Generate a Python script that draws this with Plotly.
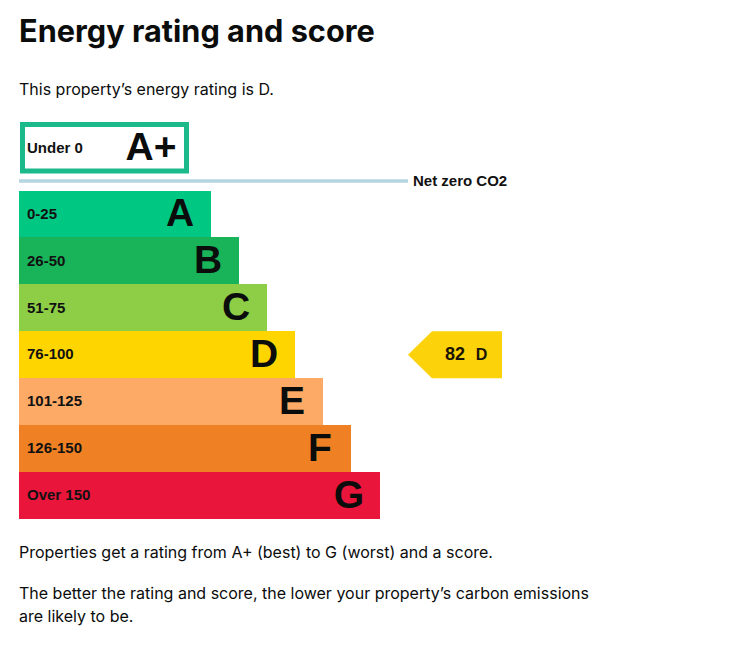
import plotly.graph_objects as go

ranges = ["0-25", "26-50", "51-75", "76-100", "101-125", "126-150", "Over 150"]
letters = ["A", "B", "C", "D", "E", "F", "G"]
bar_lengths = [192, 220, 248, 276, 304, 332, 361]
bar_colors = ["#00c781", "#19b459", "#8dce46", "#ffd500", "#fcaa65", "#ef8023", "#e9153b"]

score = 82
score_letter = "D"
score_row = letters.index(score_letter)

W, H = 747, 657
LEFT = 19
ROW_H = 46.9
ROW0_Y = 214
# text sits a little high in its line box
SMALL_DY = 1 / ROW_H
BIG_DY = 2.5 / ROW_H


def row(py):
    # page pixel height -> row units on the y axis
    return (py - ROW0_Y) / ROW_H


def col(px):
    return px - LEFT


def bold(items):
    return ["<b>%s</b>" % s for s in items]


rows = list(range(len(letters)))
fig = go.Figure()

fig.add_trace(go.Bar(y=rows, x=bar_lengths, orientation="h", width=1,
                     marker=dict(color=bar_colors, line_width=0),
                     hoverinfo="skip"))

# range labels inside the bars
fig.add_trace(go.Scatter(x=[col(27)] * len(rows), y=[r + SMALL_DY for r in rows], mode="text",
                         text=bold(ranges), textposition="middle right",
                         textfont=dict(family="Liberation Sans", size=15, color="#111111"),
                         hoverinfo="skip"))
# big letters at the end of each bar
fig.add_trace(go.Scatter(x=[v - 31 for v in bar_lengths], y=[r + BIG_DY for r in rows], mode="text",
                         text=bold(letters), textposition="middle center",
                         textfont=dict(family="Liberation Sans", size=39, color="#0b0c0c"),
                         hoverinfo="skip"))

# A+ box
fig.add_shape(type="rect", x0=col(22.5), x1=col(186.5), y0=row(124.5), y1=row(171),
              line=dict(color="#1cb98b", width=5), fillcolor="white", layer="below")
fig.add_trace(go.Scatter(x=[col(27)], y=[row(148) + SMALL_DY], mode="text", text=bold(["Under 0"]),
                         textposition="middle right",
                         textfont=dict(family="Liberation Sans", size=15, color="#111111"),
                         hoverinfo="skip"))
fig.add_trace(go.Scatter(x=[col(151)], y=[row(148) + BIG_DY], mode="text", text=bold(["A+"]),
                         textposition="middle center",
                         textfont=dict(family="Liberation Sans", size=39, color="#0b0c0c"),
                         hoverinfo="skip"))

# net zero line
fig.add_shape(type="line", x0=0, x1=col(408), y0=row(181), y1=row(181),
              line=dict(color="#b5d5e0", width=3.5))
fig.add_trace(go.Scatter(x=[col(413)], y=[row(181) + SMALL_DY], mode="text", text=bold(["Net zero CO2"]),
                         textposition="middle right",
                         textfont=dict(family="Liberation Sans", size=15, color="#111111"),
                         hoverinfo="skip"))

# current score arrow
fig.add_trace(go.Scatter(
    x=[col(408), col(432), col(502), col(502), col(432), col(408)],
    y=[score_row, score_row - 0.5, score_row - 0.5, score_row + 0.5, score_row + 0.5, score_row],
    mode="lines", fill="toself", fillcolor="#fcd20a", line_width=0, hoverinfo="skip"))
fig.add_trace(go.Scatter(x=[col(455)], y=[score_row + SMALL_DY], mode="text", text=bold([str(score)]),
                         textposition="middle center",
                         textfont=dict(family="Liberation Sans", size=18, color="#1a1405"),
                         hoverinfo="skip"))
fig.add_trace(go.Scatter(x=[col(481.5)], y=[score_row + SMALL_DY], mode="text", text=bold([score_letter]),
                         textposition="middle center",
                         textfont=dict(family="Liberation Sans", size=16, color="#1a1405"),
                         hoverinfo="skip"))


def page_text(px, py, text, size, bold=False):
    # annotation box adds 2px of pad and border on the left
    fig.add_annotation(x=(px - 2) / W, y=1 - py / H, xref="paper", yref="paper",
                       xanchor="left", yanchor="middle", showarrow=False, align="left",
                       text="<b>%s</b>" % text if bold else text,
                       font=dict(family="Inter", size=size, color="#0b0c0c"))


page_text(19, 31, "Energy rating and score", 30.7, bold=True)
page_text(19, 89, "This property’s energy rating is D.", 16)
page_text(19, 552, "Properties get a rating from A+ (best) to G (worst) and a score.", 16)
page_text(19, 593, "The better the rating and score, the lower your property’s carbon emissions", 16)
page_text(19, 616, "are likely to be.", 16)

fig.update_layout(width=W, height=H, margin=dict(l=0, r=0, t=0, b=0),
                  paper_bgcolor="white", plot_bgcolor="white", showlegend=False,
                  bargap=0,
                  xaxis=dict(range=[-LEFT, W - LEFT], visible=False, fixedrange=True),
                  yaxis=dict(range=[row(H), row(0)], visible=False, fixedrange=True))

# page default margin would push the figure 8px in
fig.write_html("out.html", config={"displayModeBar": False},
               post_script="document.body.style.margin = '0';")
